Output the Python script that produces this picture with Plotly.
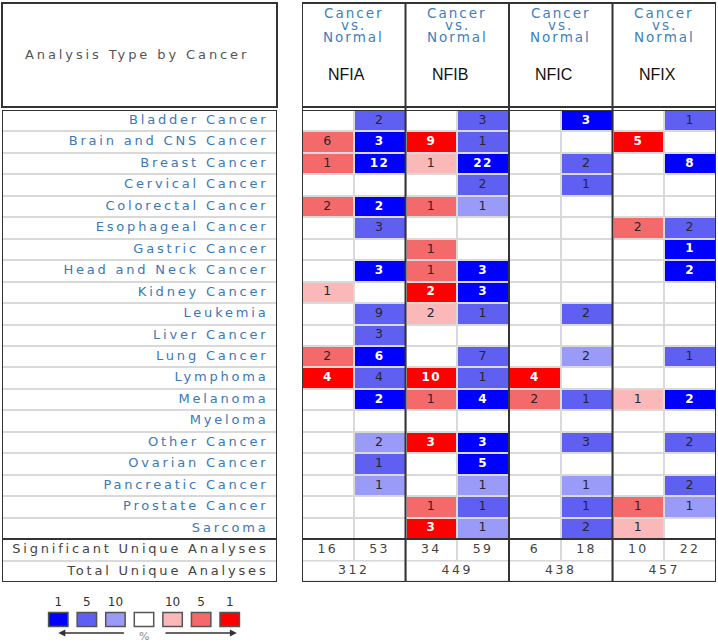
import plotly.graph_objects as go

W, H = 718, 643

# ---------------- data ----------------
cancers = ["Bladder Cancer", "Brain and CNS Cancer", "Breast Cancer", "Cervical Cancer",
           "Colorectal Cancer", "Esophageal Cancer", "Gastric Cancer", "Head and Neck Cancer",
           "Kidney Cancer", "Leukemia", "Liver Cancer", "Lung Cancer", "Lymphoma",
           "Melanoma", "Myeloma", "Other Cancer", "Ovarian Cancer", "Pancreatic Cancer",
           "Prostate Cancer", "Sarcoma"]
summary_labels = ["Significant Unique Analyses", "Total Unique Analyses"]
genes = ["NFIA", "NFIB", "NFIC", "NFIX"]
analysis_type = ["Cancer", "vs.", "Normal"]

# counts of analyses (0 = none); levels: 1 = top 1%, 2 = top 5%, 3 = top 10%
nfia_over = [0, 6, 1, 0, 2, 0, 0, 0, 1, 0, 0, 2, 4, 0, 0, 0, 0, 0, 0, 0]
nfia_over_lvl = [0, 2, 2, 0, 2, 0, 0, 0, 3, 0, 0, 2, 1, 0, 0, 0, 0, 0, 0, 0]
nfia_under = [2, 3, 12, 0, 2, 3, 0, 3, 0, 9, 3, 6, 4, 2, 0, 2, 1, 1, 0, 0]
nfia_under_lvl = [2, 1, 1, 0, 1, 2, 0, 1, 0, 2, 2, 1, 2, 1, 0, 3, 2, 3, 0, 0]

nfib_over = [0, 9, 1, 0, 1, 0, 1, 1, 2, 2, 0, 0, 10, 1, 0, 3, 0, 0, 1, 3]
nfib_over_lvl = [0, 1, 3, 0, 2, 0, 2, 2, 1, 3, 0, 0, 1, 2, 0, 1, 0, 0, 2, 1]
nfib_under = [3, 1, 22, 2, 1, 0, 0, 3, 3, 1, 0, 7, 1, 4, 0, 3, 5, 1, 1, 1]
nfib_under_lvl = [2, 2, 1, 2, 3, 0, 0, 1, 1, 2, 0, 2, 2, 1, 0, 1, 1, 3, 2, 3]

nfic_over = [0, 0, 0, 0, 0, 0, 0, 0, 0, 0, 0, 0, 4, 2, 0, 0, 0, 0, 0, 0]
nfic_over_lvl = [0, 0, 0, 0, 0, 0, 0, 0, 0, 0, 0, 0, 1, 2, 0, 0, 0, 0, 0, 0]
nfic_under = [3, 0, 2, 1, 0, 0, 0, 0, 0, 2, 0, 2, 0, 1, 0, 3, 0, 1, 1, 2]
nfic_under_lvl = [1, 0, 2, 2, 0, 0, 0, 0, 0, 2, 0, 3, 0, 2, 0, 2, 0, 3, 2, 2]

nfix_over = [0, 5, 0, 0, 0, 2, 0, 0, 0, 0, 0, 0, 0, 1, 0, 0, 0, 0, 1, 1]
nfix_over_lvl = [0, 1, 0, 0, 0, 2, 0, 0, 0, 0, 0, 0, 0, 3, 0, 0, 0, 0, 2, 3]
nfix_under = [1, 0, 8, 0, 0, 2, 1, 2, 0, 0, 0, 1, 0, 2, 0, 2, 0, 2, 1, 0]
nfix_under_lvl = [2, 0, 1, 0, 0, 2, 1, 1, 0, 0, 0, 2, 0, 1, 0, 2, 0, 2, 3, 0]

significant_unique = [16, 53, 34, 59, 6, 18, 10, 22]
total_unique = [312, 449, 438, 457]

legend_levels = ["1", "5", "10", "", "10", "5", "1"]

# ---------------- style ----------------
cell_colors = ["#ffffff", "#0000ff", "#5f5ff2", "#9a9af8", "#fbb8b8", "#f46a6a", "#ff0000"]
legend_codes = [1, 2, 3, 0, 4, 5, 6]
LABEL_BLUE = "#3b78b8"
BORDER = "#333333"
GRID = "#d9d9d9"
FONT = "DejaVu Sans"

TX0, TX1 = 302, 716     # right table x extent (px)
LX0, LX1 = 2, 277       # left table x extent (px)
HY0, HY1 = 3, 107       # header y extent (px)
BY0, BY1 = 110, 582     # body y extent (px)


def px(x):
    return x / W


def py(y):
    return 1 - y / H


def spaced(t, s):
    return f'<span style="letter-spacing:{s}px">{t}</span>'


columns = [(nfia_over, nfia_over_lvl, "over"), (nfia_under, nfia_under_lvl, "under"),
           (nfib_over, nfib_over_lvl, "over"), (nfib_under, nfib_under_lvl, "under"),
           (nfic_over, nfic_over_lvl, "over"), (nfic_under, nfic_under_lvl, "under"),
           (nfix_over, nfix_over_lvl, "over"), (nfix_under, nfix_under_lvl, "under")]


def code(lvl, kind):
    if lvl == 0:
        return 0
    return {1: 6, 2: 5, 3: 4}[lvl] if kind == "over" else lvl


nrows = len(cancers)
z = [[code(columns[c][1][r], columns[c][2]) for c in range(8)] for r in range(nrows)]
z.append([0] * 8)  # significant row (white)

n = len(cell_colors)
cscale = []
for i, c in enumerate(cell_colors):
    cscale += [[i / n, c], [(i + 1) / n, c]]

fig = go.Figure()

# grid cells
fig.add_trace(go.Heatmap(z=z, x=list(range(8)), y=list(range(nrows + 1)), colorscale=cscale,
                         zmin=-0.5, zmax=n - 0.5, showscale=False, xgap=2, ygap=2,
                         hoverinfo="skip", xaxis="x", yaxis="y"))
# total row (one cell per gene)
fig.add_trace(go.Heatmap(z=[[0] * len(genes)], x=[-0.5 + 2 * i for i in range(len(genes) + 1)],
                         y=[nrows + 0.5, nrows + 1.5], colorscale=cscale, zmin=-0.5, zmax=n - 0.5,
                         showscale=False, xgap=2, ygap=2, hoverinfo="skip", xaxis="x", yaxis="y"))
# left label column
fig.add_trace(go.Heatmap(z=[[0] for _ in range(nrows + 2)], x=[0, 1],
                         y=[i - 0.5 for i in range(nrows + 3)], colorscale=cscale,
                         zmin=-0.5, zmax=n - 0.5, showscale=False, ygap=2,
                         hoverinfo="skip", xaxis="x2", yaxis="y"))

# cell numbers
wx, wy, wt, dx_, dy_, dt = [], [], [], [], [], []
for c, (cnt, lvl, kind) in enumerate(columns):
    for r in range(nrows):
        if cnt[r]:
            k = code(lvl[r], kind)
            if k in (1, 6):
                wx.append(c); wy.append(r); wt.append(spaced(cnt[r], 1.5))
            else:
                dx_.append(c); dy_.append(r); dt.append(spaced(cnt[r], 1.5))
fig.add_trace(go.Scatter(x=wx, y=wy, text=wt, mode="text", textposition="middle center",
                         textfont=dict(family=FONT, size=12, color="#ffffff", weight="bold"),
                         hoverinfo="skip", xaxis="x", yaxis="y"))
fig.add_trace(go.Scatter(x=dx_, y=dy_, text=dt, mode="text", textposition="middle center",
                         textfont=dict(family=FONT, size=12.5, color="#262630"),
                         hoverinfo="skip", xaxis="x", yaxis="y"))

# summary numbers
fig.add_trace(go.Scatter(x=list(range(8)), y=[nrows] * 8,
                         text=[spaced(v, 2.5) for v in significant_unique], mode="text",
                         textposition="middle center",
                         textfont=dict(family=FONT, size=12.5, color="#444444"),
                         hoverinfo="skip", xaxis="x", yaxis="y"))
fig.add_trace(go.Scatter(x=[0.5 + 2 * i for i in range(len(genes))], y=[nrows + 1] * len(genes),
                         text=[spaced(v, 2.5) for v in total_unique], mode="text",
                         textposition="middle center",
                         textfont=dict(family=FONT, size=12.5, color="#444444"),
                         hoverinfo="skip", xaxis="x", yaxis="y"))

# row labels
fig.add_trace(go.Scatter(x=[0.969] * nrows, y=list(range(nrows)),
                         text=[spaced(t, 2.8) for t in cancers], mode="text",
                         textposition="middle left",
                         textfont=dict(family=FONT, size=13, color=LABEL_BLUE),
                         hoverinfo="skip", xaxis="x2", yaxis="y"))
fig.add_trace(go.Scatter(x=[0.969] * 2, y=[nrows, nrows + 1],
                         text=[spaced(t, 2.8) for t in summary_labels], mode="text",
                         textposition="middle left",
                         textfont=dict(family=FONT, size=13, color="#444444"),
                         hoverinfo="skip", xaxis="x2", yaxis="y"))

# legend labels
fig.add_trace(go.Scatter(x=list(range(len(legend_levels))), y=[10] * len(legend_levels),
                         text=legend_levels, mode="text", textposition="middle center",
                         textfont=dict(family=FONT, size=12, color="#333333"),
                         hoverinfo="skip", xaxis="x3", yaxis="y3"))

shapes = []
# grid background (shows through the gaps)
shapes.append(dict(type="rect", xref="x", yref="y", x0=-0.5, x1=7.5, y0=-0.5, y1=nrows + 1.5,
                   fillcolor=GRID, line=dict(width=0), layer="below"))
shapes.append(dict(type="rect", xref="x2", yref="y", x0=0, x1=1, y0=-0.5, y1=nrows + 1.5,
                   fillcolor=GRID, line=dict(width=0), layer="below"))
# right table borders
for g in range(len(genes) + 1):
    shapes.append(dict(type="line", xref="x", yref="paper", x0=-0.5 + 2 * g, x1=-0.5 + 2 * g,
                       y0=py(HY0), y1=py(BY1), line=dict(color=BORDER, width=2)))
for yy in (HY0, HY1):
    shapes.append(dict(type="line", xref="x", yref="paper", x0=-0.5, x1=7.5, y0=py(yy), y1=py(yy),
                       line=dict(color=BORDER, width=2)))
for yv in (-0.5, nrows - 0.5, nrows + 1.5):
    shapes.append(dict(type="line", xref="x", yref="y", x0=-0.5, x1=7.5, y0=yv, y1=yv,
                       line=dict(color=BORDER, width=2)))
# left table borders
shapes.append(dict(type="rect", xref="paper", yref="paper", x0=px(LX0), x1=px(LX1),
                   y0=py(HY0), y1=py(HY1), line=dict(color=BORDER, width=2)))
shapes.append(dict(type="rect", xref="x2", yref="y", x0=0, x1=1, y0=-0.5, y1=nrows + 1.5,
                   line=dict(color=BORDER, width=2)))
shapes.append(dict(type="line", xref="x2", yref="y", x0=0, x1=1, y0=nrows - 0.5, y1=nrows - 0.5,
                   line=dict(color=BORDER, width=2)))
# legend boxes
for i, k in enumerate(legend_codes):
    shapes.append(dict(type="rect", xref="x3", yref="y3", x0=i - 0.34, x1=i + 0.34, y0=19.5, y1=33.5,
                       fillcolor=cell_colors[k], line=dict(color="#555555", width=1.5)))

annotations = [
    dict(text=spaced("Analysis Type by Cancer", 2.9), xref="paper", yref="paper", x=px(137),
         y=py(54), showarrow=False, font=dict(family=FONT, size=13, color="#555555"),
         xanchor="center", yanchor="middle"),
]
for g, gene in enumerate(genes):
    for j, (t, yy) in enumerate(zip(analysis_type, (13, 25, 37))):
        annotations.append(dict(text=spaced(t, 2.0), xref="x", yref="paper", x=2 * g + 0.5, y=py(yy),
                                showarrow=False, font=dict(family=FONT, size=13.5, color="#3c7fc0"),
                                xanchor="center", yanchor="middle"))
    annotations.append(dict(text=gene, xref="x", yref="paper", x=2 * g + 0.5, y=py(74), xshift=-7,
                            showarrow=False,
                            font=dict(family="Liberation Sans Narrow, Liberation Sans", size=16,
                                      color="#111111"),
                            xanchor="center", yanchor="middle"))
# legend arrows and percent sign
annotations.append(dict(x=0.0, y=40, ax=2.35, ay=40, xref="x3", yref="y3", axref="x3", ayref="y3",
                        text="", showarrow=True, arrowhead=2, arrowsize=1, arrowwidth=1.4,
                        arrowcolor="#333333"))
annotations.append(dict(x=6.25, y=40, ax=3.7, ay=40, xref="x3", yref="y3", axref="x3", ayref="y3",
                        text="", showarrow=True, arrowhead=2, arrowsize=1, arrowwidth=1.4,
                        arrowcolor="#333333"))
annotations.append(dict(x=3, y=43, xref="x3", yref="y3", text="%", showarrow=False,
                        font=dict(family=FONT, size=11, color="#888888")))

fig.update_layout(
    width=W, height=H, margin=dict(l=0, r=0, t=0, b=0),
    paper_bgcolor="white", plot_bgcolor="white", showlegend=False,
    xaxis=dict(domain=[px(TX0), px(TX1)], range=[-0.5, 7.5], visible=False, anchor="y"),
    xaxis2=dict(domain=[px(LX0), px(LX1)], range=[0, 1], visible=False, anchor="y"),
    yaxis=dict(domain=[py(BY1), py(BY0)], range=[nrows + 1.5, -0.5], visible=False, anchor="x"),
    xaxis3=dict(domain=[px(44), px(244)], range=[-0.5, 6.5], visible=False, anchor="y3"),
    yaxis3=dict(domain=[py(643), py(593)], range=[50, 0], visible=False, anchor="x3"),
    shapes=shapes, annotations=annotations,
)

fig.write_html("out.html", config={"displayModeBar": False},
               post_script="document.body.style.margin='0';document.body.style.overflow='hidden';")
